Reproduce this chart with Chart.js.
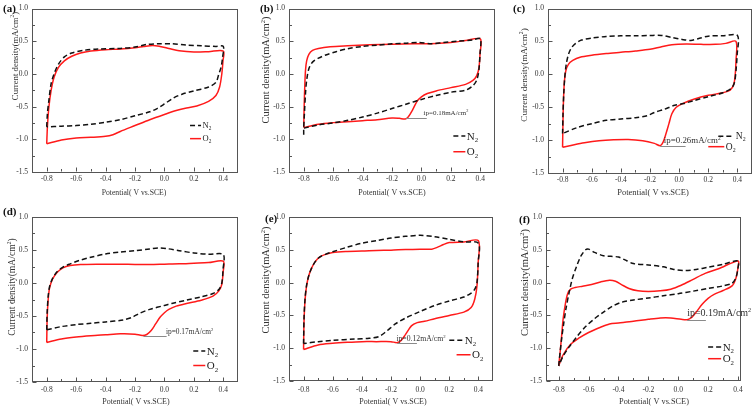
<!DOCTYPE html>
<html><head><meta charset="utf-8">
<script src="https://cdn.jsdelivr.net/npm/chart.js@4.4.0/dist/chart.umd.min.js"></script>
<style>
html,body{margin:0;padding:0;background:#fff;}
#wrap{position:relative;width:756px;height:410px;overflow:hidden;background:#fff;}
#wrap canvas{position:absolute;}
</style>
</head><body><div id="wrap"></div>
<script>
// ---------- tick values / labels ----------
const xTickValues = [-0.8, -0.6, -0.4, -0.2, 0.0, 0.2, 0.4];
const xTickLabels = ['-0.8', '-0.6', '-0.4', '-0.2', '0.0', '0.2', '0.4'];
const xMinorValues = [-0.7, -0.5, -0.3, -0.1, 0.1, 0.3];
const yTickValues = [-1.5, -1.0, -0.5, 0.0, 0.5, 1.0];
const yTickLabels = ['-1.5', '-1.0', '-0.5', '0.0', '0.5', '1.0'];
const yMinorValues = [-1.25, -0.75, -0.25, 0.25, 0.75];
const xTitle = 'Potential( V vs.SCE)';
const yTitle = 'Current density(mA/cm²)';
const seriesNames = ['N₂', 'O₂'];
const panelLetters = ['(a)', '(b)', '(c)', '(d)', '(e)', '(f)'];
const ipLabels = ['', 'ip=0.18mA/cm²', 'ip=0.26mA/cm²', 'ip=0.17mA/cm²', 'ip=0.12mA/cm²', 'ip=0.19mA/cm²'];

// ---------- series data: [potential V, current density mA/cm2] ----------
const aN2 = [[-0.8,-0.81],[-0.795,-0.6],[-0.785,-0.4],[-0.77,-0.15],[-0.75,0.0],[-0.72,0.15],[-0.68,0.26],[-0.63,0.32],[-0.55,0.36],[-0.45,0.38],[-0.3,0.39],[-0.2,0.41],[-0.12,0.45],[-0.05,0.46],[0.05,0.46],[0.15,0.44],[0.25,0.43],[0.35,0.42],[0.4,0.42],[0.395,0.25],[0.385,0.1],[0.37,0.0],[0.35,-0.13],[0.3,-0.2],[0.2,-0.26],[0.12,-0.31],[0.06,-0.37],[0.0,-0.46],[-0.05,-0.53],[-0.1,-0.58],[-0.2,-0.64],[-0.3,-0.7],[-0.4,-0.74],[-0.5,-0.77],[-0.6,-0.79],[-0.7,-0.8],[-0.8,-0.81]];
const aO2 = [[-0.8,-1.07],[-0.795,-0.8],[-0.785,-0.5],[-0.77,-0.25],[-0.75,-0.05],[-0.72,0.1],[-0.68,0.2],[-0.63,0.27],[-0.57,0.32],[-0.5,0.35],[-0.4,0.37],[-0.3,0.38],[-0.2,0.40],[-0.14,0.42],[-0.08,0.435],[-0.03,0.42],[0.03,0.39],[0.1,0.355],[0.2,0.335],[0.3,0.34],[0.4,0.35],[0.398,0.2],[0.39,0.0],[0.375,-0.2],[0.35,-0.33],[0.3,-0.42],[0.22,-0.49],[0.15,-0.52],[0.08,-0.56],[0.0,-0.62],[-0.1,-0.7],[-0.2,-0.79],[-0.3,-0.88],[-0.35,-0.93],[-0.4,-0.955],[-0.5,-0.97],[-0.6,-0.98],[-0.7,-1.01],[-0.8,-1.07]];

const bN2 = [[-0.8,-0.93],[-0.8,-0.83],[-0.795,-0.6],[-0.788,-0.3],[-0.78,-0.1],[-0.765,0.08],[-0.74,0.18],[-0.7,0.24],[-0.65,0.29],[-0.58,0.34],[-0.5,0.385],[-0.4,0.42],[-0.3,0.44],[-0.2,0.46],[-0.1,0.47],[-0.02,0.48],[0.07,0.46],[0.15,0.48],[0.25,0.5],[0.35,0.52],[0.4,0.54],[0.398,0.3],[0.39,0.05],[0.375,-0.1],[0.35,-0.18],[0.3,-0.25],[0.2,-0.28],[0.1,-0.33],[0.0,-0.39],[-0.1,-0.46],[-0.2,-0.53],[-0.3,-0.6],[-0.4,-0.66],[-0.5,-0.71],[-0.6,-0.75],[-0.7,-0.78],[-0.8,-0.83]];
const bO2 = [[-0.8,-0.82],[-0.797,-0.5],[-0.793,-0.2],[-0.788,0.05],[-0.78,0.2],[-0.765,0.3],[-0.74,0.36],[-0.7,0.39],[-0.62,0.415],[-0.5,0.43],[-0.35,0.445],[-0.2,0.455],[-0.05,0.46],[0.1,0.465],[0.2,0.48],[0.3,0.51],[0.4,0.535],[0.398,0.3],[0.39,0.08],[0.375,-0.03],[0.35,-0.1],[0.3,-0.16],[0.2,-0.21],[0.1,-0.26],[0.04,-0.3],[0.0,-0.35],[-0.03,-0.42],[-0.06,-0.55],[-0.09,-0.66],[-0.11,-0.69],[-0.15,-0.68],[-0.2,-0.675],[-0.3,-0.7],[-0.4,-0.715],[-0.5,-0.73],[-0.6,-0.745],[-0.7,-0.77],[-0.8,-0.82]];

const cN2 = [[-0.8,-0.9],[-0.797,-0.6],[-0.792,-0.3],[-0.785,-0.05],[-0.775,0.15],[-0.76,0.3],[-0.74,0.4],[-0.71,0.47],[-0.67,0.52],[-0.6,0.55],[-0.5,0.575],[-0.4,0.585],[-0.3,0.585],[-0.2,0.59],[-0.12,0.59],[-0.05,0.56],[0.02,0.53],[0.08,0.515],[0.13,0.54],[0.2,0.58],[0.3,0.585],[0.4,0.59],[0.398,0.3],[0.39,0.05],[0.38,-0.12],[0.36,-0.21],[0.3,-0.28],[0.2,-0.34],[0.1,-0.4],[0.03,-0.445],[-0.03,-0.47],[-0.1,-0.53],[-0.17,-0.58],[-0.22,-0.63],[-0.3,-0.66],[-0.4,-0.68],[-0.5,-0.7],[-0.6,-0.75],[-0.7,-0.81],[-0.8,-0.9]];
const cO2 = [[-0.8,-1.11],[-0.797,-0.7],[-0.793,-0.35],[-0.787,-0.1],[-0.778,0.05],[-0.76,0.15],[-0.73,0.21],[-0.68,0.26],[-0.6,0.29],[-0.5,0.315],[-0.4,0.335],[-0.3,0.355],[-0.2,0.38],[-0.12,0.42],[-0.05,0.45],[0.05,0.46],[0.15,0.455],[0.25,0.455],[0.32,0.47],[0.39,0.5],[0.39,0.2],[0.385,0.0],[0.375,-0.15],[0.35,-0.24],[0.3,-0.28],[0.2,-0.32],[0.1,-0.38],[0.03,-0.44],[-0.02,-0.5],[-0.05,-0.6],[-0.07,-0.75],[-0.09,-0.9],[-0.11,-1.03],[-0.13,-1.085],[-0.17,-1.05],[-0.25,-1.01],[-0.35,-0.99],[-0.45,-0.995],[-0.55,-1.01],[-0.65,-1.04],[-0.72,-1.07],[-0.8,-1.11]];

const dN2 = [[-0.8,-0.71],[-0.797,-0.45],[-0.79,-0.2],[-0.78,-0.05],[-0.76,0.07],[-0.73,0.17],[-0.69,0.24],[-0.64,0.29],[-0.58,0.34],[-0.5,0.39],[-0.4,0.44],[-0.3,0.47],[-0.2,0.49],[-0.1,0.515],[-0.04,0.53],[0.02,0.52],[0.1,0.49],[0.2,0.455],[0.3,0.435],[0.4,0.43],[0.398,0.2],[0.39,0.0],[0.37,-0.1],[0.33,-0.16],[0.25,-0.21],[0.15,-0.26],[0.05,-0.31],[0.0,-0.34],[-0.1,-0.4],[-0.17,-0.46],[-0.22,-0.52],[-0.28,-0.56],[-0.4,-0.59],[-0.5,-0.61],[-0.6,-0.63],[-0.7,-0.66],[-0.8,-0.71]];
const dO2 = [[-0.8,-0.9],[-0.797,-0.55],[-0.79,-0.25],[-0.78,-0.07],[-0.76,0.06],[-0.73,0.16],[-0.69,0.23],[-0.64,0.265],[-0.57,0.28],[-0.45,0.285],[-0.3,0.285],[-0.2,0.28],[-0.1,0.28],[0.0,0.285],[0.1,0.29],[0.2,0.3],[0.3,0.31],[0.4,0.33],[0.398,0.15],[0.39,-0.02],[0.37,-0.12],[0.33,-0.2],[0.25,-0.26],[0.15,-0.31],[0.08,-0.35],[0.03,-0.4],[0.0,-0.45],[-0.03,-0.52],[-0.06,-0.62],[-0.09,-0.72],[-0.12,-0.78],[-0.15,-0.795],[-0.2,-0.775],[-0.3,-0.77],[-0.4,-0.785],[-0.5,-0.8],[-0.6,-0.82],[-0.7,-0.85],[-0.8,-0.9]];

const eN2 = [[-0.8,-0.93],[-0.797,-0.55],[-0.79,-0.25],[-0.78,-0.05],[-0.765,0.1],[-0.745,0.22],[-0.72,0.32],[-0.69,0.39],[-0.65,0.43],[-0.6,0.47],[-0.5,0.54],[-0.4,0.6],[-0.3,0.64],[-0.2,0.68],[-0.1,0.705],[0.0,0.72],[0.1,0.7],[0.2,0.66],[0.3,0.62],[0.4,0.6],[0.398,0.3],[0.39,0.0],[0.375,-0.1],[0.35,-0.16],[0.3,-0.22],[0.2,-0.28],[0.1,-0.35],[0.0,-0.44],[-0.1,-0.54],[-0.17,-0.63],[-0.23,-0.74],[-0.28,-0.82],[-0.35,-0.85],[-0.45,-0.86],[-0.6,-0.88],[-0.7,-0.9],[-0.8,-0.93]];
const eO2 = [[-0.8,-1.02],[-0.797,-0.6],[-0.79,-0.27],[-0.78,-0.06],[-0.765,0.1],[-0.745,0.22],[-0.72,0.32],[-0.69,0.39],[-0.65,0.43],[-0.6,0.46],[-0.5,0.475],[-0.4,0.48],[-0.3,0.49],[-0.2,0.495],[-0.1,0.505],[0.0,0.51],[0.08,0.51],[0.12,0.54],[0.16,0.58],[0.2,0.61],[0.3,0.62],[0.4,0.64],[0.398,0.3],[0.39,-0.05],[0.375,-0.25],[0.35,-0.38],[0.3,-0.45],[0.2,-0.5],[0.1,-0.55],[0.03,-0.59],[-0.02,-0.61],[-0.06,-0.66],[-0.1,-0.79],[-0.13,-0.88],[-0.16,-0.915],[-0.2,-0.9],[-0.3,-0.9],[-0.4,-0.9],[-0.5,-0.91],[-0.6,-0.925],[-0.7,-0.95],[-0.8,-1.02]];

const fN2 = [[-0.8,-1.27],[-0.79,-1.05],[-0.78,-0.85],[-0.765,-0.6],[-0.75,-0.38],[-0.73,-0.15],[-0.71,0.05],[-0.68,0.25],[-0.65,0.41],[-0.62,0.5],[-0.6,0.51],[-0.56,0.46],[-0.5,0.41],[-0.45,0.4],[-0.4,0.39],[-0.36,0.35],[-0.3,0.29],[-0.2,0.27],[-0.1,0.24],[-0.03,0.2],[0.05,0.185],[0.12,0.2],[0.2,0.235],[0.3,0.28],[0.4,0.33],[0.398,0.2],[0.385,0.07],[0.36,-0.01],[0.3,-0.05],[0.2,-0.09],[0.1,-0.13],[0.0,-0.17],[-0.1,-0.2],[-0.2,-0.235],[-0.3,-0.265],[-0.38,-0.3],[-0.44,-0.36],[-0.5,-0.45],[-0.56,-0.55],[-0.62,-0.67],[-0.68,-0.83],[-0.73,-0.98],[-0.77,-1.12],[-0.8,-1.27]];
const fO2 = [[-0.8,-1.27],[-0.79,-1.05],[-0.78,-0.8],[-0.77,-0.55],[-0.755,-0.32],[-0.74,-0.17],[-0.72,-0.1],[-0.69,-0.075],[-0.64,-0.055],[-0.58,-0.03],[-0.52,0.01],[-0.46,0.035],[-0.42,0.02],[-0.38,-0.03],[-0.33,-0.09],[-0.27,-0.125],[-0.2,-0.135],[-0.12,-0.125],[-0.05,-0.1],[0.02,-0.04],[0.1,0.05],[0.18,0.14],[0.27,0.21],[0.4,0.33],[0.398,0.2],[0.385,0.06],[0.36,-0.05],[0.3,-0.12],[0.24,-0.18],[0.2,-0.24],[0.16,-0.33],[0.12,-0.45],[0.09,-0.53],[0.06,-0.565],[0.02,-0.56],[-0.05,-0.54],[-0.12,-0.54],[-0.2,-0.56],[-0.3,-0.59],[-0.4,-0.615],[-0.46,-0.63],[-0.52,-0.68],[-0.6,-0.76],[-0.66,-0.84],[-0.72,-0.94],[-0.77,-1.1],[-0.8,-1.27]];

// ip marker (data units): line x from, x to, y ; label anchor x, y
const ipLine = [null, [-0.104, 0.036, -0.672], [-0.13, 0.044, -1.09], [-0.143, 0.015, -0.805], [-0.158, -0.022, -0.923], [0.06, 0.185, -0.575]];
const ipText = [null, [0.014, -0.586], [-0.105, -1.006], [0.01, -0.73], [-0.163, -0.847], [0.06, -0.464]];
// legend anchors (data units): [xN2, yN2, xO2, yO2]
const legendAnchor = [[0.174, -0.79, 0.174, -0.99], [0.217, -0.95, 0.217, -1.19], [0.269, -0.94, 0.2, -1.10], [0.196, -1.03, 0.196, -1.25], [0.2, -0.88, 0.25, -1.10], [0.2, -0.98, 0.2, -1.16]];

// ---------- layout / styles (pixels) ----------
const FAM = '"Liberation Serif", "DejaVu Serif", serif';
const panels = [
  {cell:[0,0],   box:[32,7,238,172],  xr:[-0.9,0.5],   n2:aN2, o2:aO2, yT:[15,56,8.7],   xT:[134,192,7.7], let:[3,8],   legF:8.5, legL:11, ipF:7,   tickPad:2.5},
  {cell:[252,0], box:[289,7,495,172], xr:[-0.9,0.5],   n2:bN2, o2:bO2, yT:[266,70,10.5], xT:[392,192,8],   let:[260,8], legF:11,  legL:12, ipF:7,   tickPad:2.5},
  {cell:[504,0], box:[548,7,752,173], xr:[-0.9,0.5],   n2:cN2, o2:cO2, yT:[524,75,9.2],  xT:[653,192,8.5], let:[513,8], legF:9.5, legL:16, ipF:8.9, tickPad:2.5},
  {cell:[0,205], box:[32,217,238,382],xr:[-0.9,0.5],   n2:dN2, o2:dO2, yT:[12,287,9.6],  xT:[136,401.5,8], let:[3,211], legF:11, legL:12, ipF:7.4, tickPad:4},
  {cell:[252,205],box:[289,217,493,381],xr:[-0.9,0.5], n2:eN2, o2:eO2, yT:[266,280,10.5], xT:[393,401.5,8], let:[265,218], legF:11, legL:14, ipF:7.7, tickPad:4.5},
  {cell:[504,205],box:[546,217,741,381],xr:[-0.885,0.42], n2:fN2, o2:fO2, yT:[525,282.5,10.5], xT:[654,401.5,8.3], let:[519,219], legF:11, legL:13, ipF:10, tickPad:4.5}
];

function richParts(text){
  const parts = [];
  for (const ch of text){
    let kind = 'n', c = ch;
    if (ch === '₂'){ kind = 'sub'; c = '2'; }
    else if (ch === '²'){ kind = 'sup'; c = '2'; }
    const last = parts[parts.length-1];
    if (last && last.kind === kind) last.t += c; else parts.push({kind, t:c});
  }
  return parts;
}
function drawRich(ctx, text, x, y, size, opts){
  opts = opts || {};
  const weight = opts.bold ? 'bold ' : '';
  const parts = richParts(text);
  let total = 0;
  parts.forEach(p => { p.s = p.kind === 'n' ? size : size*0.62; ctx.font = weight + p.s + 'px ' + FAM; p.w = ctx.measureText(p.t).width; total += p.w; });
  ctx.save();
  ctx.translate(x, y);
  if (opts.rotate) ctx.rotate(opts.rotate);
  let cx = opts.align === 'center' ? -total/2 : 0;
  ctx.textBaseline = 'alphabetic';
  ctx.fillStyle = opts.color || '#222';
  const base = size*0.33;
  parts.forEach(p => {
    ctx.font = weight + p.s + 'px ' + FAM;
    let dy = base;
    if (p.kind === 'sub') dy += size*0.22;
    if (p.kind === 'sup') dy -= size*0.4;
    ctx.fillText(p.t, cx, dy);
    cx += p.w;
  });
  ctx.restore();
}

const wrap = document.getElementById('wrap');
panels.forEach((p, idx) => {
  const cw = 252, ch = 205;
  const cx0 = p.cell[0], cy0 = p.cell[1];
  const padL = p.box[0]-cx0, padT = p.box[1]-cy0, padR = cx0+cw-p.box[2], padB = cy0+ch-p.box[3];
  const canvas = document.createElement('canvas');
  canvas.width = cw; canvas.height = ch;
  canvas.style.left = cx0 + 'px'; canvas.style.top = cy0 + 'px';
  canvas.style.width = cw + 'px'; canvas.style.height = ch + 'px';
  wrap.appendChild(canvas);

  const decor = {
    id: 'decor' + idx,
    afterDatasetsDraw(chart){
      const ctx = chart.ctx;
      const xs = chart.scales.x, ys = chart.scales.y;
      const {left, top, right, bottom} = chart.chartArea;
      ctx.save();
      // frame
      ctx.strokeStyle = '#555'; ctx.lineWidth = 1; ctx.setLineDash([]);
      ctx.strokeRect(Math.round(left)+0.5, Math.round(top)+0.5, Math.round(right-left)-1, Math.round(bottom-top)-1);
      const L = Math.round(left)+0.5, B = Math.round(bottom)-0.5;
      ctx.beginPath();
      xTickValues.forEach(v => { const px = Math.round(xs.getPixelForValue(v))+0.5; ctx.moveTo(px, B); ctx.lineTo(px, B-4); });
      xMinorValues.forEach(v => { const px = Math.round(xs.getPixelForValue(v))+0.5; ctx.moveTo(px, B); ctx.lineTo(px, B-2.5); });
      yTickValues.forEach(v => { const py = Math.round(ys.getPixelForValue(v))+0.5; ctx.moveTo(L, py); ctx.lineTo(L+4, py); });
      yMinorValues.forEach(v => { const py = Math.round(ys.getPixelForValue(v))+0.5; ctx.moveTo(L, py); ctx.lineTo(L+2.5, py); });
      ctx.stroke();

      // legend
      const la = legendAnchor[idx];
      const ds = chart.data.datasets;
      [0,1].forEach(i => {
        const lx = xs.getPixelForValue(la[i*2]);
        const ly = ys.getPixelForValue(la[i*2+1]);
        ctx.beginPath();
        ctx.strokeStyle = ds[i].borderColor; ctx.lineWidth = ds[i].borderWidth;
        ctx.setLineDash(ds[i].borderDash || []);
        ctx.moveTo(lx, ly); ctx.lineTo(lx + p.legL, ly); ctx.stroke();
        ctx.setLineDash([]);
        drawRich(ctx, ds[i].label, lx + p.legL + 1.5, ly, p.legF, {color:'#222'});
      });

      // ip annotation
      if (ipLine[idx]){
        const [x1, x2, yv] = ipLine[idx];
        const py = Math.round(ys.getPixelForValue(yv)) + 0.5;
        ctx.beginPath(); ctx.strokeStyle = '#8a8a8a'; ctx.lineWidth = 1;
        ctx.moveTo(xs.getPixelForValue(x1), py); ctx.lineTo(xs.getPixelForValue(x2), py); ctx.stroke();
        drawRich(ctx, ipLabels[idx], xs.getPixelForValue(ipText[idx][0]), ys.getPixelForValue(ipText[idx][1]), p.ipF, {color:'#333'});
      }

      // axis titles & panel letter
      drawRich(ctx, yTitle, p.yT[0]-cx0, p.yT[1]-cy0, p.yT[2], {rotate:-Math.PI/2, align:'center', color:'#333'});
      drawRich(ctx, xTitle, p.xT[0]-cx0, p.xT[1]-cy0, p.xT[2], {align:'center', color:'#333'});
      drawRich(ctx, panelLetters[idx], p.let[0]-cx0, p.let[1]-cy0, 11, {bold:true, color:'#111'});
      ctx.restore();
    }
  };

  new Chart(canvas, {
    type: 'scatter',
    data: {
      datasets: [
        {label: seriesNames[0], data: p.n2.map(([x,y]) => ({x, y})), showLine: true, borderColor: '#111', borderWidth: 1.5, borderDash: [5, 3], pointRadius: 0, tension: 0.3, fill: false},
        {label: seriesNames[1], data: p.o2.map(([x,y]) => ({x, y})), showLine: true, borderColor: '#ff1a1a', borderWidth: 1.5, pointRadius: 0, tension: 0.3, fill: false}
      ]
    },
    options: {
      responsive: false, animation: false, devicePixelRatio: 1,
      layout: {autoPadding: false, padding: {left: 0, top: padT, right: padR, bottom: 0}},
      plugins: {legend: {display: false}, tooltip: {enabled: false}, title: {display: false}},
      scales: {
        x: {
          type: 'linear', position: 'bottom', min: p.xr[0], max: p.xr[1],
          grid: {display: false, drawTicks: false}, border: {display: false},
          afterFit: s => { s.height = padB; },
          afterBuildTicks: s => { s.ticks = xTickValues.map(v => ({value: v})); },
          ticks: {padding: p.tickPad, autoSkip: false, maxRotation: 0, color: '#333', font: {family: FAM, size: 7.5}, callback: (v, i) => xTickLabels[i]}
        },
        y: {
          type: 'linear', position: 'left', min: -1.5, max: 1.0,
          grid: {display: false, drawTicks: false}, border: {display: false},
          afterFit: s => { s.width = padL; },
          afterBuildTicks: s => { s.ticks = yTickValues.map(v => ({value: v})); },
          ticks: {padding: 4, autoSkip: false, color: '#333', font: {family: FAM, size: 7.5}, callback: (v, i) => yTickLabels[i]}
        }
      }
    },
    plugins: [decor]
  });
});
</script>
</body></html>
